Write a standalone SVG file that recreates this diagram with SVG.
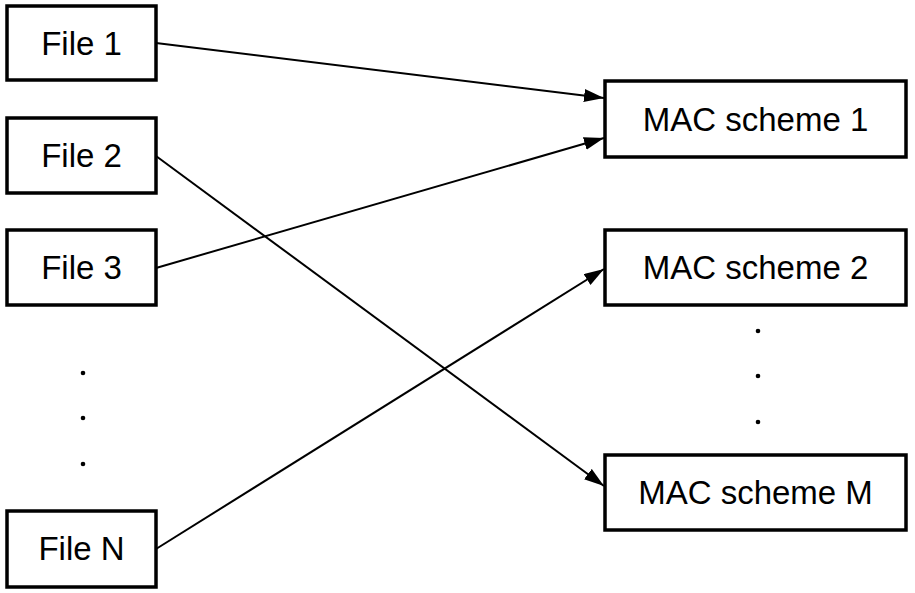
<svg xmlns="http://www.w3.org/2000/svg" width="915" height="593" viewBox="0 0 915 593">
<style>
.box{fill:#fff;stroke:#000;stroke-width:3.5}
.lbl{font-family:"Liberation Sans",Arial,sans-serif;font-size:33px;fill:#000;text-anchor:middle}
.conn{stroke:#000;stroke-width:2;fill:none;marker-end:url(#ah)}
.dot{fill:#000}
</style>
<defs>
<marker id="ah" markerUnits="userSpaceOnUse" markerWidth="22" markerHeight="14" refX="20" refY="6.5" orient="auto">
<path d="M0,0 L20,6.5 L0,13 z" fill="#000"/>
</marker>
</defs>
<rect width="915" height="593" fill="#fff"/>
<g id="connectors">
<line class="conn" x1="156" y1="43" x2="604" y2="98"/>
<line class="conn" x1="156" y1="268" x2="604" y2="138"/>
<line class="conn" x1="156" y1="156" x2="604" y2="486"/>
<line class="conn" x1="156" y1="549" x2="604" y2="269"/>
</g>
<g id="file1"><rect class="box" x="7" y="6" width="149" height="74"/><text class="lbl" x="81.5" y="55">File 1</text></g>
<g id="file2"><rect class="box" x="7" y="118" width="149" height="75"/><text class="lbl" x="81.5" y="167">File 2</text></g>
<g id="file3"><rect class="box" x="7" y="230" width="149" height="75"/><text class="lbl" x="81.5" y="279">File 3</text></g>
<g id="fileN"><rect class="box" x="7" y="511" width="149" height="76"/><text class="lbl" x="81.5" y="560">File N</text></g>
<g id="mac1"><rect class="box" x="605" y="81" width="301" height="76"/><text class="lbl" x="755.5" y="130.5">MAC scheme 1</text></g>
<g id="mac2"><rect class="box" x="605" y="230" width="301" height="75"/><text class="lbl" x="755.5" y="279">MAC scheme 2</text></g>
<g id="macM"><rect class="box" x="605" y="455" width="301" height="75"/><text class="lbl" x="755.5" y="504">MAC scheme M</text></g>
<g id="dots-left"><circle class="dot" cx="83" cy="373" r="2.3"/><circle class="dot" cx="83" cy="418" r="2.3"/><circle class="dot" cx="83" cy="464" r="2.3"/></g>
<g id="dots-right"><circle class="dot" cx="758" cy="331" r="2.3"/><circle class="dot" cx="758" cy="376" r="2.3"/><circle class="dot" cx="758" cy="422" r="2.3"/></g>
</svg>
